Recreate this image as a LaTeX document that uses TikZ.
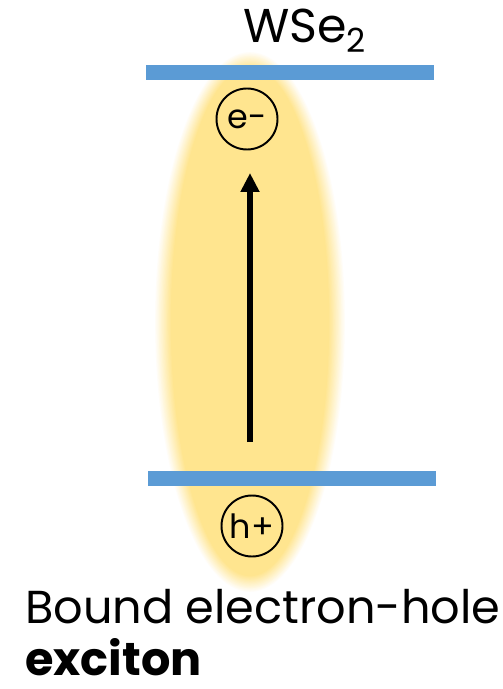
\documentclass[tikz,border=0pt]{standalone}
\usepackage{fontspec}
\setmainfont{Poppins}
\usepackage{tikz}
\usetikzlibrary{arrows.meta,positioning}
\definecolor{layerblue}{RGB}{91,155,213}
\definecolor{glowyellow}{RGB}{255,229,143}

\begin{document}
\begin{tikzpicture}[x=0.02cm,y=-0.02cm,>=Triangle,
  layer/.style={layerblue,line width=0.3cm},
  carrier/.style={draw,circle,line width=1.1pt,minimum size=1.22cm,inner sep=0pt,font=\fontsize{19}{22}\selectfont},
  label/.style={anchor=base west,inner sep=0pt,font=\fontsize{26.3}{30}\selectfont}]
  \useasboundingbox (0,0) rectangle (503,689);
  % 激子云（模糊边缘）
  \foreach \i in {0,...,14}
    \fill[glowyellow!\the\numexpr\i*100/14\relax!white] (250,322) ellipse ({96-\i*1.2} and {271-\i*1.2});
  % 两个层
  \coordinate (T1) at (146,72.5);
  \coordinate (T2) at (434,72.5);
  \coordinate (B1) at (148,478.5);
  \coordinate (B2) at (436,478.5);
  \draw[layer] (T1)--(T2);
  \draw[layer] (B1)--(B2);
  % 电子和空穴
  \node[carrier] (e) at (247,119) {e-};
  \node[carrier] (h) at (252,526) {h+};
  % 箭头
  \coordinate (A0) at (250,442);
  \coordinate (A1) at (250,173);
  \draw[line width=3.3pt,-{Triangle[length=3.8mm,width=3.6mm]}] (A0)--(A1);
  % 标注
  \node[anchor=base west,inner sep=0pt,font=\fontsize{27}{30}\selectfont] (wse) at (243,43) {WSe\textsubscript{2}};
  \node[label] (bound) at (25,623) {Bound electron-hole};
  \node[label,font=\fontsize{26.3}{30}\selectfont\bfseries] (exc) at (25,675) {exciton};
\end{tikzpicture}
\end{document}
